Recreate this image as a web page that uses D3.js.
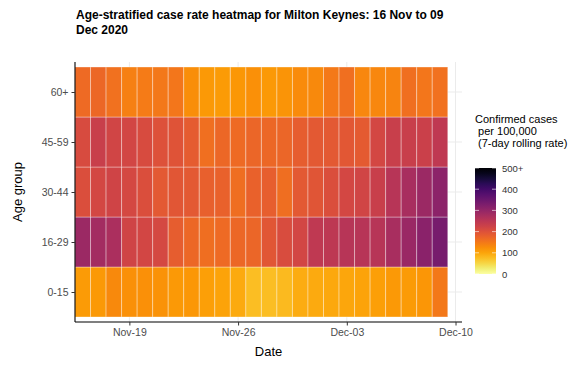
<!DOCTYPE html>
<html><head><meta charset="utf-8">
<script src="https://cdn.jsdelivr.net/npm/d3@7"></script>
<style>body{margin:0;background:#fff}svg{display:block;font-family:"Liberation Sans",Arial,sans-serif}</style>
</head><body><svg id="c" width="581" height="365"></svg>
<script>
const dates = ["2020-11-16","2020-11-17","2020-11-18","2020-11-19","2020-11-20","2020-11-21","2020-11-22","2020-11-23","2020-11-24","2020-11-25","2020-11-26","2020-11-27","2020-11-28","2020-11-29","2020-11-30","2020-12-01","2020-12-02","2020-12-03","2020-12-04","2020-12-05","2020-12-06","2020-12-07","2020-12-08","2020-12-09"];
const ageGroups = ["0-15","16-29","30-44","45-59","60+"];
const rate0_15  = [110,112,130,122,122,120,112,115,106,102,95,75,75,80,92,95,97,98,102,106,112,110,116,150];
const rate16_29 = [290,280,270,222,218,214,182,168,162,165,168,170,192,208,218,245,248,255,255,254,275,292,312,335];
const rate30_44 = [205,215,222,214,205,188,192,188,178,176,162,176,180,162,188,195,205,215,220,232,255,275,290,310];
const rate45_59 = [210,232,220,218,210,200,196,185,160,168,166,170,168,170,182,188,188,190,186,215,232,232,230,245];
const rate60    = [165,168,158,140,146,150,152,125,112,110,115,122,112,118,128,130,148,160,132,132,136,160,152,158];
const xTicks = ["2020-11-19","2020-11-26","2020-12-03","2020-12-10"];
const legendTicks = [0,100,200,300,400,500];
const legendLabels = ["0","100","200","300","400","500+"];
const series = [rate0_15, rate16_29, rate30_44, rate45_59, rate60];

const svg = d3.select("#c");
const parse = d3.utcParse("%Y-%m-%d");
const H12 = 12*3600*1000;
const L=75, R=462, T=62, B=322;
const x = d3.scaleUtc().domain([new Date(parse(dates[0]).getTime()-H12), new Date(parse("2020-12-10").getTime()+10*3600*1000)]).range([L,R]);
const y = d3.scaleLinear().domain([0.4,5.6]).range([B,T]);
const color = v => d3.interpolateInferno(1 - Math.min(v,500)/500);

// grid
const g = svg.append("g");
g.selectAll(".hg").data(ageGroups).join("line")
  .attr("x1",L).attr("x2",R).attr("y1",(d,i)=>y(i+1)).attr("y2",(d,i)=>y(i+1))
  .attr("stroke","#ebebeb").attr("stroke-width",1);
g.selectAll(".vg").data(xTicks).join("line")
  .attr("x1",d=>x(parse(d))).attr("x2",d=>x(parse(d))).attr("y1",T).attr("y2",B)
  .attr("stroke","#ebebeb").attr("stroke-width",1);

// tiles
const cells = [];
series.forEach((arr,i)=>arr.forEach((v,j)=>cells.push({i,d:parse(dates[j]),v})));
g.selectAll("rect.cell").data(cells).join("rect")
  .attr("x",d=>x(new Date(d.d.getTime()-H12)))
  .attr("width",d=>x(new Date(d.d.getTime()+H12))-x(new Date(d.d.getTime()-H12)))
  .attr("y",d=>y(d.i+1.5)).attr("height",d=>y(d.i+0.5)-y(d.i+1.5))
  .attr("fill",d=>color(d.v))
  .attr("stroke","rgba(255,255,255,0.35)").attr("stroke-width",1);

// axes
const xa = svg.append("g").attr("transform",`translate(0,${B})`)
  .call(d3.axisBottom(x).tickValues(xTicks.map(parse)).tickFormat(d3.utcFormat("%b-%d")).tickSize(3.5).tickPadding(3));
const ya = svg.append("g").attr("transform",`translate(${L},0)`)
  .call(d3.axisLeft(y).tickValues([1,2,3,4,5]).tickFormat((d)=>ageGroups[d-1]).tickSize(3.5).tickPadding(3));
[xa,ya].forEach(a=>{
  a.select(".domain").attr("stroke","#000").attr("stroke-width",1.1);
  a.selectAll(".tick line").attr("stroke","#333");
  a.selectAll(".tick text").attr("fill","#4d4d4d").style("font-size","10.5px").style("font-family","Liberation Sans, Arial, sans-serif");
});
ya.select(".domain").attr("d",`M0,${T}V${B}`);
xa.select(".domain").attr("d",`M${L},0H${R}`);

// titles
svg.append("text").attr("x",76).attr("y",19).attr("font-weight","bold").attr("font-size",12).text("Age-stratified case rate heatmap for Milton Keynes: 16 Nov to 09");
svg.append("text").attr("x",76).attr("y",33.5).attr("font-weight","bold").attr("font-size",12).text("Dec 2020");
svg.append("text").attr("x",(L+R)/2).attr("y",356).attr("text-anchor","middle").attr("font-size",13).text("Date");
svg.append("text").attr("transform",`translate(22,${(T+B)/2}) rotate(-90)`).attr("text-anchor","middle").attr("font-size",13).text("Age group");

// legend
const lg = svg.append("g");
["Confirmed cases"," per 100,000"," (7-day rolling rate)"].forEach((t,i)=>{
  lg.append("text").attr("x",475).attr("y",123+i*12).attr("font-size",11).attr("xml:space","preserve").style("white-space","pre").text(t);
});
const ly = d3.scaleLinear().domain([0,500]).range([274,168]);
const grad = svg.append("defs").append("linearGradient").attr("id","gr").attr("x1",0).attr("x2",0).attr("y1",1).attr("y2",0);
d3.range(0,1.0001,0.05).forEach(t=>grad.append("stop").attr("offset",t).attr("stop-color",color(t*500)));
lg.append("rect").attr("x",475).attr("y",ly(500)).attr("width",21).attr("height",ly(0)-ly(500)).attr("fill","url(#gr)");
legendTicks.forEach((v,i)=>{
  lg.append("line").attr("x1",475).attr("x2",479).attr("y1",ly(v)).attr("y2",ly(v)).attr("stroke","#fff").attr("stroke-opacity",0.6);
  lg.append("line").attr("x1",492).attr("x2",496).attr("y1",ly(v)).attr("y2",ly(v)).attr("stroke","#fff").attr("stroke-opacity",0.6);
  lg.append("text").attr("x",502).attr("y",ly(v)+3.5).attr("font-size",9.5).attr("fill","#333").text(legendLabels[i]);
});
</script></body></html>
